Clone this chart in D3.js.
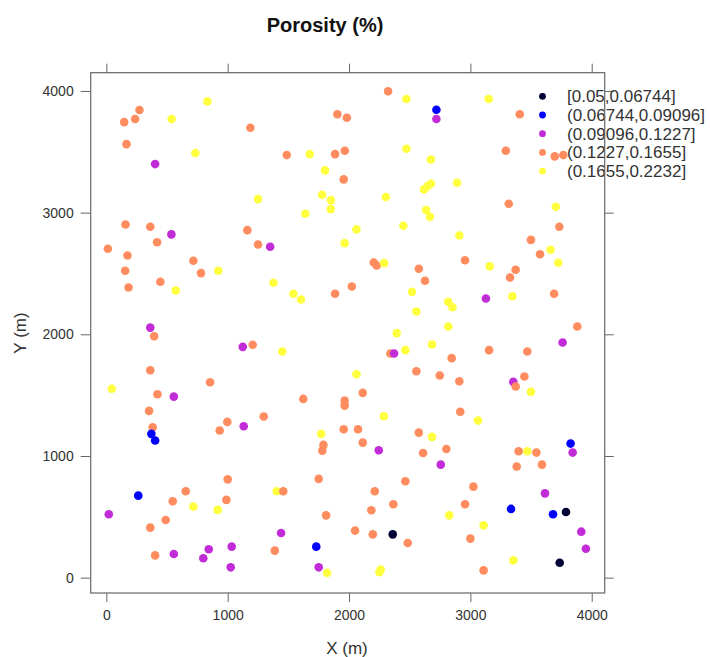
<!DOCTYPE html>
<html>
<head>
<meta charset="utf-8">
<script src="https://cdn.jsdelivr.net/npm/d3@7"></script>
<style>
  body { margin: 0; background: #fff; }
  svg { font-family: "Liberation Sans", Arial, sans-serif; }
</style>
</head>
<body>
<svg width="710" height="657"></svg>
<script>
// class labels and colours (bpy-like palette)
var classLabels = ["[0.05,0.06744]", "(0.06744,0.09096]", "(0.09096,0.1227]", "(0.1227,0.1655]", "(0.1655,0.2232]"];
var classColors = ["#000033", "#0000ff", "#c22cd8", "#ff8c5e", "#ffff40"];
var tickValues = [0, 1000, 2000, 3000, 4000];

// sample locations (m) and porosity class index
var xs = [273,237,147,538,833,1187,166,402,734,1487,1676,1885,1965,1904,1982,1802,1956,1250,1778,1851,1849,1640,158,362,536,418,12,174,717,780,923,155,445,183,572,1162,1250,1350,1377,1541,1604,1885,1964,362,2023,
  2322,2473,2720,2720,3151,3407,2473,2675,3292,3695,3766,2618,2648,2675,2890,2303,3316,3704,3733,2635,2667,2448,2061,2909,3499,3574,3661,3725,2204,2228,2289,2575,2956,3159,3373,3327,2626,2519,3128,3346,3690,2817,2852,2555,2818,3881,2393,
  394,1124,1206,1450,362,45,855,421,556,1623,1964,1964,352,1297,997,934,1132,382,371,402,1956,1770,1789,1780,1000,1750,654,1404,1458,263,547,717,989,917,20,489,1811,362,1440,1730,1388,402,556,844,799,1033,1025,1750,1819,
  3760,2684,2341,2371,2464,3154,3469,2846,2061,2555,2748,2909,3354,3373,3445,3499,2113,2917,2287,3063,2074,2113,2575,2684,2610,2802,2245,2756,3826,3843,3398,3469,3544,3382,3590,2464,2212,3025,3615,2365,2184,2956,2826,3335,3681,3788,2050,2196,2360,3109,2484,3000,3914,3952,3354,3736,2250,2261,3109];
var ys = [3843,3769,3744,3769,3914,3698,3563,3399,3490,3473,3481,3481,3509,3808,3780,3347,3273,3111,3147,3103,3029,2991,2903,2884,2821,2757,2703,2648,2604,2503,2522,2522,2432,2385,2360,2856,2738,2720,2424,2333,2286,2333,2749,2055,2393,
  3997,3934,3846,3769,3934,3808,3525,3437,3509,3462,3473,3191,3218,3238,3246,3128,3073,3048,2884,3021,2966,2892,2862,2812,2776,2658,2695,2588,2590,2566,2585,2539,2609,2558,2531,2467,2440,2349,2294,2313,2333,2267,2223,2188,2064,2064,2010,
  1984,1897,1914,1859,1705,1552,1606,1507,1488,1469,1455,1414,1371,1324,1280,1209,1244,1236,1182,1127,1220,1182,1091,1044,808,812,710,710,710,674,628,584,639,557,521,474,512,411,367,255,222,183,195,233,159,255,85,85,39,
  1933,1916,1842,1842,1870,1870,1859,1804,1672,1697,1661,1614,1609,1571,1653,1527,1519,1363,1327,1291,1220,1110,1192,1157,1025,1058,1047,929,1102,1028,1039,1039,1028,913,929,792,710,748,693,603,554,603,512,565,521,540,387,356,356,430,285,321,378,238,142,123,44,66,60];
var cls = [3,3,3,4,4,3,3,2,4,3,4,3,3,3,3,4,3,4,4,4,4,4,3,3,2,3,3,3,3,3,4,3,3,3,4,3,3,2,4,4,4,3,4,2,3,
  3,4,1,2,4,3,4,4,3,3,3,4,4,4,4,4,3,4,3,4,4,4,4,4,3,3,4,4,3,3,4,3,3,4,3,3,3,4,2,4,3,4,4,4,4,3,4,
  3,2,3,4,3,4,3,3,2,3,3,3,3,3,3,3,2,3,1,1,3,4,3,3,3,3,3,4,3,1,3,4,3,4,2,3,3,3,2,1,3,3,2,2,2,2,2,2,4,
  2,4,3,2,4,3,3,3,4,3,3,3,2,3,3,4,3,3,4,4,3,3,3,4,3,3,2,2,1,2,3,4,3,3,3,3,3,3,2,3,3,3,4,1,1,0,3,3,0,4,3,3,2,2,4,0,4,4,3];

var svg = d3.select("svg");

var x = d3.scaleLinear().domain([-129, 4107]).range([90.7, 604.7]);
var y = d3.scaleLinear().domain([-126, 4150]).range([593, 72.7]);

var axisColor = "#666";
var textColor = "#333";

function styleAxis(g, showLabels) {
  g.select(".domain").remove();
  g.selectAll(".tick line").attr("stroke", axisColor);
  g.selectAll(".tick text").attr("fill", textColor).attr("font-size", 14)
    .style("display", showLabels ? null : "none");
}

svg.append("g")
    .attr("transform", "translate(0,593)")
    .call(d3.axisBottom(x).tickValues(tickValues).tickSize(9).tickPadding(8).tickFormat(d3.format("d")))
    .call(styleAxis, true);
svg.append("g")
    .attr("transform", "translate(90.7,0)")
    .call(d3.axisLeft(y).tickValues(tickValues).tickSize(10).tickPadding(7).tickFormat(d3.format("d")))
    .call(styleAxis, true);
svg.append("g")
    .attr("transform", "translate(0,72.7)")
    .call(d3.axisTop(x).tickValues(tickValues).tickSize(9))
    .call(styleAxis, false);
svg.append("g")
    .attr("transform", "translate(604.7,0)")
    .call(d3.axisRight(y).tickValues(tickValues).tickSize(9))
    .call(styleAxis, false);

// points
var idx = d3.range(xs.length);
svg.append("g").selectAll("circle")
    .data(idx)
  .enter().append("circle")
    .attr("cx", function(i) { return x(xs[i]); })
    .attr("cy", function(i) { return y(ys[i]); })
    .attr("r", 4.3)
    .attr("fill", function(i) { return classColors[cls[i]]; });

// legend
var legend = svg.append("g").attr("transform", "translate(542.5,96.3)");
var item = legend.selectAll("g").data(classLabels).enter().append("g")
    .attr("transform", function(d, i) { return "translate(0," + (i * 18.7) + ")"; });
item.append("circle").attr("r", 3.4).attr("fill", function(d, i) { return classColors[i]; });
item.append("text").attr("x", 24.5).attr("y", 6).attr("font-size", 17).attr("fill", textColor)
    .text(function(d) { return d; });

// frame drawn over points/legend
svg.append("rect")
    .attr("x", 90.7).attr("y", 72.7)
    .attr("width", 604.7 - 90.7).attr("height", 593 - 72.7)
    .attr("fill", "none").attr("stroke", axisColor).attr("stroke-width", 1.2);

// titles
svg.append("text").attr("x", 325).attr("y", 32).attr("text-anchor", "middle")
    .attr("font-size", 20).attr("font-weight", "bold").attr("fill", "#111").text("Porosity (%)");
svg.append("text").attr("x", 347).attr("y", 654).attr("text-anchor", "middle")
    .attr("font-size", 17).attr("fill", textColor).text("X (m)");
svg.append("text").attr("transform", "translate(26,333) rotate(-90)").attr("text-anchor", "middle")
    .attr("font-size", 17).attr("fill", textColor).text("Y (m)");
</script>
</body>
</html>
